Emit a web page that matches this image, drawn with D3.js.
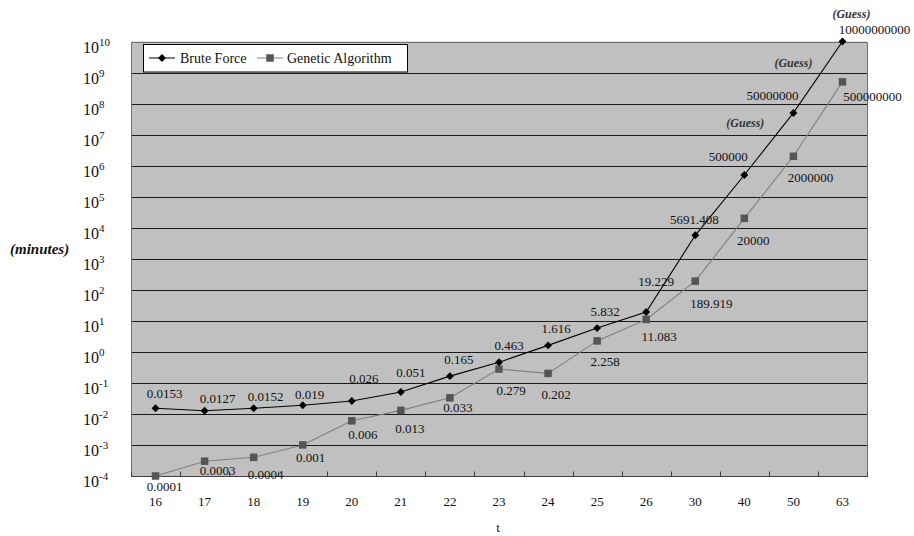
<!DOCTYPE html>
<html>
<head>
<meta charset="utf-8">
<script src="https://cdn.jsdelivr.net/npm/d3@7"></script>
<style>
  html, body { margin: 0; padding: 0; background: #fff; }
  svg { display: block; font-family: "Liberation Serif", "DejaVu Serif", serif; }
</style>
</head>
<body>
<svg id="chart" width="914" height="536"></svg>
<script>
// Problem size t on the category axis
const categories = ["16", "17", "18", "19", "20", "21", "22", "23", "24", "25", "26", "30", "40", "50", "63"];
// Running time in minutes
const bruteForce = [0.0153, 0.0127, 0.0152, 0.019, 0.026, 0.051, 0.165, 0.463, 1.616, 5.832, 19.229, 5691.408, 500000, 50000000, 10000000000];
const geneticAlgorithm = [0.0001, 0.0003, 0.0004, 0.001, 0.006, 0.013, 0.033, 0.279, 0.202, 2.258, 11.083, 189.919, 20000, 2000000, 500000000];
const yExponents = [-4, -3, -2, -1, 0, 1, 2, 3, 4, 5, 6, 7, 8, 9, 10];
const guessAt = ["40", "50", "63"];
const seriesNames = ["Brute Force", "Genetic Algorithm"];

// Label placement (offsets from each marker, in px)
const bruteLabelOffset = [[9,-15],[13,-12],[12,-12],[7,-11],[12,-23],[10,-20],[9,-17],[10,-17],[8,-17],[8,-17],[10,-31],[-1,-16],[-16,-19],[-21,-17],[32,-12]];
const gaLabelOffset = [[9,10],[13,9],[12,17],[8,12],[11,14],[9,18],[8,10],[12,21],[8,21],[8,21],[13,17],[16,22],[9,22],[17,21],[30,15]];
const guessOffset = [[1,-52],[0,-50],[9,-28]];

const svg = d3.select("#chart");
const plot = { left: 131, right: 867, top: 41.5, bottom: 476 };

const x = d3.scaleBand().domain(categories).range([plot.left, plot.right]).padding(0);
const y = d3.scaleLog().domain([1e-4, 1e10]).range([plot.bottom, plot.top]);
const cx = c => x(c) + x.bandwidth() / 2;
const snap = v => Math.round(v) + 0.5;

// Plot area
svg.append("rect")
  .attr("x", plot.left).attr("y", plot.top)
  .attr("width", plot.right - plot.left).attr("height", plot.bottom - plot.top)
  .attr("fill", "#c0c0c0");

// Horizontal gridlines at every decade
svg.append("g").selectAll("line")
  .data(yExponents.filter(e => e > -4 && e < 10))
  .join("line")
  .attr("x1", plot.left).attr("x2", plot.right)
  .attr("y1", e => snap(y(Math.pow(10, e)))).attr("y2", e => snap(y(Math.pow(10, e))))
  .attr("stroke", "#1a1a1a").attr("stroke-width", 1);

// Frame
svg.append("path")
  .attr("d", `M${snap(plot.left)},${snap(plot.bottom)}V${snap(plot.top)}H${snap(plot.right)}V${snap(plot.bottom)}`)
  .attr("fill", "none").attr("stroke", "#707070").attr("stroke-width", 1);

// Category axis
const xAxis = svg.append("g");
xAxis.append("line")
  .attr("x1", plot.left).attr("x2", plot.right + 1)
  .attr("y1", snap(plot.bottom)).attr("y2", snap(plot.bottom))
  .attr("stroke", "#404040");
const bounds = categories.map(c => x(c)).concat([plot.right]);
xAxis.selectAll("line.tick")
  .data(bounds)
  .join("line").attr("class", "tick")
  .attr("x1", d => snap(d)).attr("x2", d => snap(d))
  .attr("y1", snap(plot.bottom) - 5).attr("y2", snap(plot.bottom))
  .attr("stroke", "#404040");
xAxis.selectAll("text")
  .data(categories)
  .join("text")
  .attr("x", c => cx(c)).attr("y", 501.5).attr("dy", "0.35em")
  .attr("text-anchor", "middle").attr("font-size", 13).attr("fill", "#111")
  .text(c => c);

// Value axis: powers of ten
const yAxis = svg.append("g");
yExponents.forEach(e => {
  const yy = y(Math.pow(10, e));
  const t = yAxis.append("text").attr("x", 83).attr("y", yy + 5.5).attr("dy", "0.35em")
    .attr("fill", "#111");
  t.append("tspan").attr("font-size", 16).text("10");
  t.append("tspan").attr("font-size", 11).attr("dy", "-7").text(String(e));
});

// Axis titles
svg.append("text")
  .attr("x", 10).attr("y", 249).attr("dy", "0.35em")
  .attr("font-size", 15).attr("font-weight", "bold").attr("font-style", "italic")
  .attr("fill", "#111").text("(minutes)");
svg.append("text")
  .attr("x", 498).attr("y", 527).attr("dy", "0.35em").attr("text-anchor", "middle")
  .attr("font-size", 13).attr("fill", "#111").text("t");

// Series lines
const line = d3.line().x(d => cx(d.c)).y(d => y(d.v));
const bfData = categories.map((c, i) => ({ c, v: bruteForce[i], i }));
const gaData = categories.map((c, i) => ({ c, v: geneticAlgorithm[i], i }));

svg.append("path").datum(gaData).attr("d", line)
  .attr("fill", "none").attr("stroke", "#808080").attr("stroke-width", 1.1);
svg.append("path").datum(bfData).attr("d", line)
  .attr("fill", "none").attr("stroke", "#000").attr("stroke-width", 1.1);

// Markers
const diamond = d3.symbol().type(d3.symbolDiamond2).size(40);
svg.append("g").selectAll("rect")
  .data(gaData).join("rect")
  .attr("x", d => cx(d.c) - 3.75).attr("y", d => y(d.v) - 3.75)
  .attr("width", 7.5).attr("height", 7.5).attr("fill", "#555");
svg.append("g").selectAll("path")
  .data(bfData).join("path")
  .attr("d", diamond)
  .attr("transform", d => `translate(${cx(d.c)},${y(d.v)})`)
  .attr("fill", "#000");

// Data labels
svg.append("g").selectAll("text")
  .data(bfData).join("text")
  .attr("x", d => cx(d.c) + bruteLabelOffset[d.i][0])
  .attr("y", d => y(d.v) + bruteLabelOffset[d.i][1])
  .attr("dy", "0.35em").attr("text-anchor", "middle")
  .attr("font-size", 13).attr("fill", "#111")
  .text(d => String(d.v));
svg.append("g").selectAll("text")
  .data(gaData).join("text")
  .attr("x", d => cx(d.c) + gaLabelOffset[d.i][0])
  .attr("y", d => y(d.v) + gaLabelOffset[d.i][1])
  .attr("dy", "0.35em").attr("text-anchor", "middle")
  .attr("font-size", 13).attr("fill", "#111")
  .text(d => String(d.v));

// Extrapolated values
svg.append("g").selectAll("text")
  .data(guessAt).join("text")
  .attr("x", (c, i) => cx(c) + guessOffset[i][0])
  .attr("y", (c, i) => y(bruteForce[categories.indexOf(c)]) + guessOffset[i][1])
  .attr("dy", "0.35em").attr("text-anchor", "middle")
  .attr("font-size", 12).attr("font-weight", "bold").attr("font-style", "italic")
  .attr("fill", "#333").text("(Guess)");

// Legend
const legend = svg.append("g");
legend.append("rect")
  .attr("x", 143.5).attr("y", 44.5).attr("width", 264).attr("height", 27.5)
  .attr("fill", "#fff").attr("stroke", "#000").attr("stroke-width", 1);
const ly = 58;
legend.append("line").attr("x1", 149).attr("x2", 175).attr("y1", ly).attr("y2", ly).attr("stroke", "#000");
legend.append("path").attr("d", diamond).attr("transform", `translate(162,${ly})`).attr("fill", "#000");
legend.append("text").attr("x", 180).attr("y", ly).attr("dy", "0.35em")
  .attr("font-size", 14).attr("fill", "#111").text(seriesNames[0]);
legend.append("line").attr("x1", 257).attr("x2", 283).attr("y1", ly).attr("y2", ly).attr("stroke", "#808080");
legend.append("rect").attr("x", 266.25).attr("y", ly - 3.75).attr("width", 7.5).attr("height", 7.5).attr("fill", "#555");
legend.append("text").attr("x", 287).attr("y", ly).attr("dy", "0.35em")
  .attr("font-size", 14).attr("fill", "#111").text(seriesNames[1]);
</script>
</body>
</html>
